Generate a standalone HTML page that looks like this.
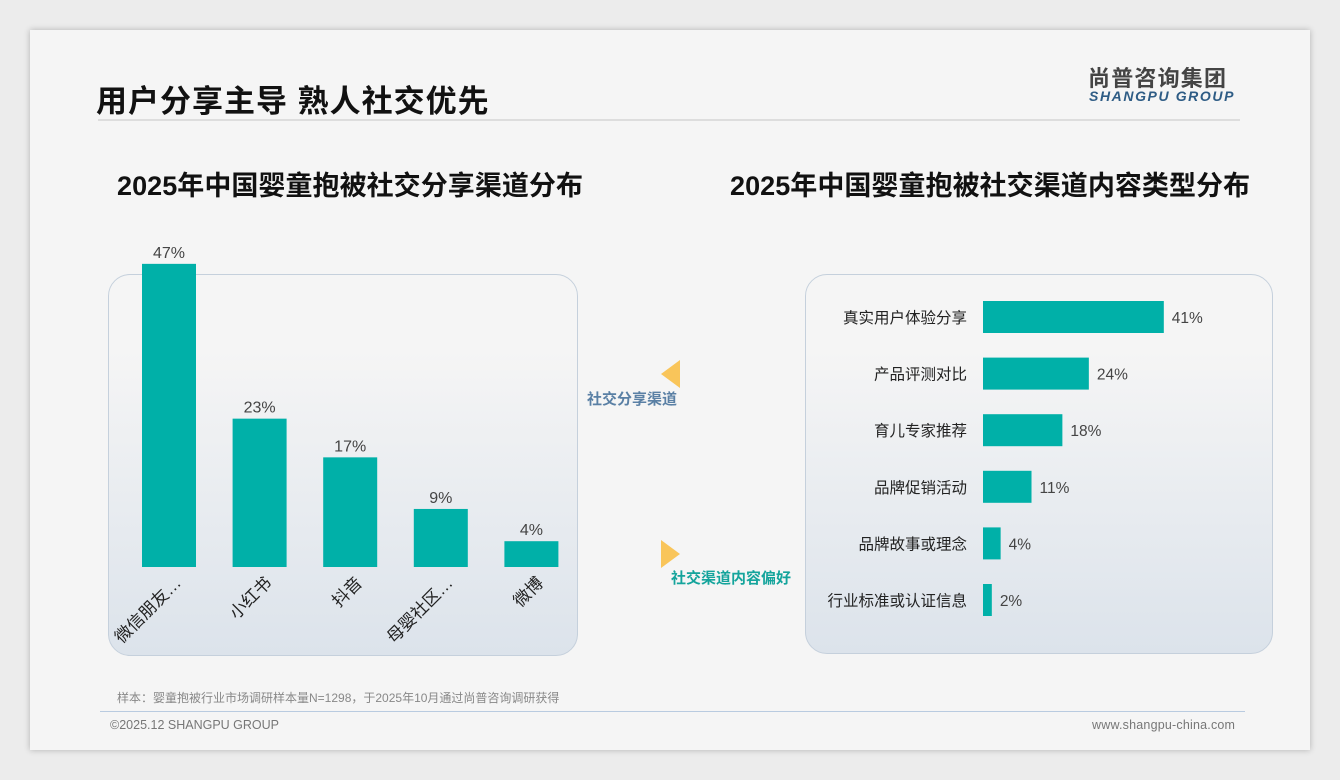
<!DOCTYPE html>
<html><head><meta charset="utf-8"><style>
body{margin:0;width:1340px;height:780px;background:#ececec;font-family:"Liberation Sans","Noto Sans CJK SC",sans-serif;position:relative;overflow:hidden}
.abs{position:absolute}
#slide{left:30px;top:30px;width:1280px;height:720px;background:#f5f5f5;box-shadow:0 0 6px rgba(0,0,0,.25)}
.panel{border:1.5px solid #c5d0dc;border-radius:22px;background:linear-gradient(#f5f5f5 20%,#dce3eb);}
</style></head><body>
<div id="slide" class="abs"></div>
<div class="abs" style="left:96px;top:76px;font-size:31px;font-weight:bold;color:#111;letter-spacing:1px">用户分享主导 熟人社交优先</div>
<div class="abs" style="left:1088px;top:61px;font-size:22px;font-weight:bold;color:#444;letter-spacing:1.2px">尚普咨询集团</div>
<div class="abs" style="left:1089px;top:88px;font-size:14px;font-weight:bold;font-style:italic;color:#2e5c85;letter-spacing:1.6px">SHANGPU GROUP</div>
<div class="abs" style="left:98px;top:119px;width:1142px;height:2px;background:#ddd"></div>
<div class="abs" style="left:117px;top:164px;font-size:27px;font-weight:bold;color:#111;letter-spacing:0.05px">2025年中国婴童抱被社交分享渠道分布</div>
<div class="abs" style="left:730px;top:164px;font-size:27px;font-weight:bold;color:#111;letter-spacing:0.05px">2025年中国婴童抱被社交渠道内容类型分布</div>
<div class="abs panel" style="left:108px;top:274px;width:468px;height:380px"></div>
<div class="abs panel" style="left:805px;top:274px;width:466px;height:378px"></div>
<svg class="abs" style="left:0;top:0" width="1340" height="780">
<g id="left"></g><g id="right"></g>
<polygon points="680,360 680,388 661,374" fill="#f9c55a"/>
<text x="587" y="404" font-size="15" font-weight="bold" fill="#5a80a5">社交分享渠道</text>
<polygon points="661,540 661,568 680,554" fill="#f9c55a"/>
<text x="671" y="583" font-size="15" font-weight="bold" fill="#14a49c">社交渠道内容偏好</text>
</svg>
<div class="abs" style="left:117px;top:689px;font-size:12px;color:#888">样本：婴童抱被行业市场调研样本量N=1298，于2025年10月通过尚普咨询调研获得</div>
<div class="abs" style="left:100px;top:711px;width:1145px;height:1px;background:#b9cbe0"></div>
<div class="abs" style="left:110px;top:718px;font-size:12.5px;color:#777">©2025.12 SHANGPU GROUP</div>
<div class="abs" style="left:1092px;top:718px;font-size:12.5px;color:#777;letter-spacing:0.2px">www.shangpu-china.com</div>
<script>
const leftCats=["微信朋友…","小红书","抖音","母婴社区…","微博"];
const leftVals=[47,23,17,9,4];
const rightCats=["真实用户体验分享","产品评测对比","育儿专家推荐","品牌促销活动","品牌故事或理念","行业标准或认证信息"];
const rightVals=[41,24,18,11,4,2];
const NS="http://www.w3.org/2000/svg";
function mk(t,a,p){const e=document.createElementNS(NS,t);for(const k in a)e.setAttribute(k,a[k]);p.appendChild(e);return e;}
const L=document.getElementById('left');
const base=567,ys=v=>v*6.45,xs=i=>142+i*90.6;
leftVals.forEach((v,i)=>{
 const r=mk('rect',{x:xs(i),y:base-ys(v),width:54,height:ys(v),fill:'#00b0a8'},L);
 
 
 const t=mk('text',{x:xs(i)+27,y:base-ys(v)-6,'font-size':16,fill:'#444','text-anchor':'middle'},L);t.textContent=v+'%';
 
 
 const c=mk('text',{x:xs(i)+40,y:584,'font-size':17,fill:'#222','text-anchor':'end',transform:`rotate(-45 ${xs(i)+40} 584)`},L);c.textContent=leftCats[i];
 
 
});
const R=document.getElementById('right');
const x0=983,xr=v=>v*4.41,yr=i=>317+i*56.6;
rightVals.forEach((v,i)=>{
 const r=mk('rect',{x:x0,y:yr(i)-16,width:xr(v),height:32,fill:'#00b0a8'},R);
 
 
 const t=mk('text',{x:x0+xr(v)+8,y:yr(i)+6,'font-size':15.5,fill:'#444'},R);t.textContent=v+'%';
 
 
 const c=mk('text',{x:967,y:yr(i)+6,'font-size':15.5,fill:'#222','text-anchor':'end'},R);c.textContent=rightCats[i];
 
 
});
</script>
</body></html>
